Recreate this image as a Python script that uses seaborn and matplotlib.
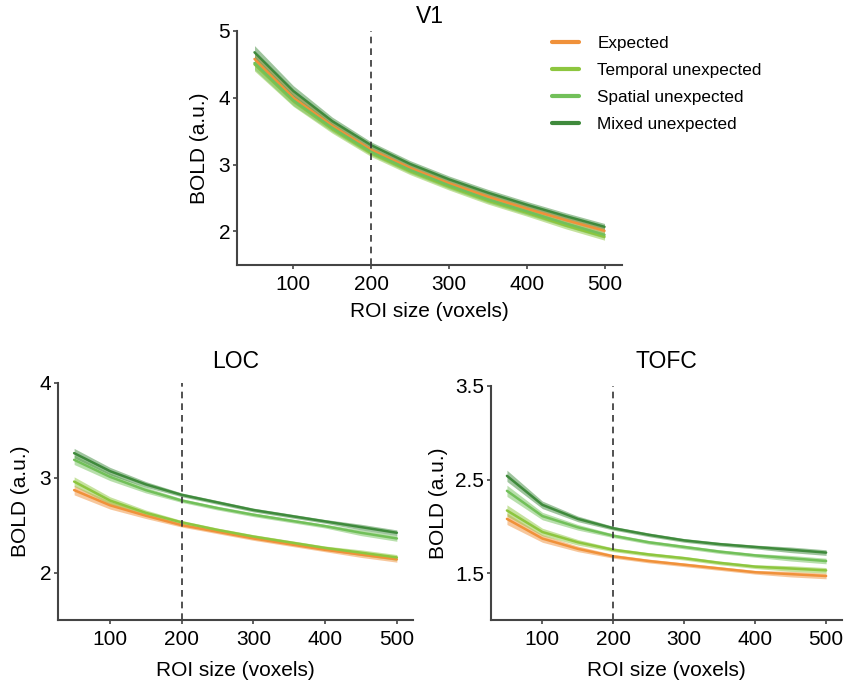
import numpy as np
import pandas as pd
import matplotlib
matplotlib.use("Agg")
import matplotlib.pyplot as plt
import seaborn as sns

sns.set_theme(style="ticks")
plt.rcParams["font.family"] = ["Liberation Sans", "DejaVu Sans"]
plt.rcParams["text.color"] = "black"
plt.rcParams["axes.labelcolor"] = "black"

# ROI sizes (voxels)
roi_sizes = [50, 100, 150, 200, 250, 300, 350, 400, 450, 500]

conditions = ["Expected", "Temporal unexpected", "Spatial unexpected", "Mixed unexpected"]
palette = ["#F0913A", "#8DC63F", "#72C05A", "#3F8A3C"]

# Mean BOLD per condition, V1
v1_expected = [4.58, 4.00, 3.58, 3.22, 2.95, 2.72, 2.52, 2.34, 2.17, 2.01]
v1_temporal = [4.50, 3.95, 3.53, 3.17, 2.90, 2.67, 2.46, 2.28, 2.09, 1.92]
v1_spatial = [4.52, 3.96, 3.55, 3.19, 2.92, 2.69, 2.48, 2.30, 2.12, 1.95]
v1_mixed = [4.68, 4.10, 3.65, 3.29, 3.01, 2.78, 2.58, 2.40, 2.23, 2.07]
v1_sem = [0.10, 0.08, 0.06, 0.05, 0.05, 0.05, 0.05, 0.05, 0.05, 0.05]

# Mean BOLD per condition, LOC
loc_expected = [2.87, 2.71, 2.60, 2.50, 2.43, 2.36, 2.30, 2.24, 2.19, 2.14]
loc_temporal = [2.96, 2.76, 2.63, 2.53, 2.45, 2.38, 2.32, 2.26, 2.21, 2.16]
loc_spatial = [3.19, 3.01, 2.87, 2.76, 2.68, 2.61, 2.55, 2.49, 2.42, 2.36]
loc_mixed = [3.26, 3.07, 2.93, 2.82, 2.74, 2.66, 2.60, 2.54, 2.48, 2.42]
loc_sem = [0.05, 0.04, 0.03, 0.02, 0.02, 0.02, 0.02, 0.02, 0.03, 0.03]

# Mean BOLD per condition, TOFC
tofc_expected = [2.08, 1.87, 1.76, 1.68, 1.63, 1.59, 1.55, 1.51, 1.49, 1.47]
tofc_temporal = [2.17, 1.94, 1.83, 1.75, 1.70, 1.66, 1.61, 1.57, 1.55, 1.53]
tofc_spatial = [2.38, 2.11, 1.99, 1.90, 1.83, 1.78, 1.73, 1.69, 1.66, 1.63]
tofc_mixed = [2.54, 2.23, 2.08, 1.98, 1.91, 1.85, 1.81, 1.78, 1.75, 1.72]
tofc_sem = [0.06, 0.04, 0.03, 0.02, 0.02, 0.02, 0.02, 0.02, 0.03, 0.03]

regions = {
    "V1": ([v1_expected, v1_temporal, v1_spatial, v1_mixed], v1_sem, (1.5, 5), [2, 3, 4, 5], ["2", "3", "4", "5"]),
    "LOC": ([loc_expected, loc_temporal, loc_spatial, loc_mixed], loc_sem, (1.5, 4), [2, 3, 4], ["2", "3", "4"]),
    "TOFC": ([tofc_expected, tofc_temporal, tofc_spatial, tofc_mixed], tofc_sem, (1.0, 3.5), [1.5, 2.5, 3.5], ["1.5", "2.5", "3.5"]),
}

# per-panel spacing of title, x label and y label (points)
title_pad = {"V1": 6, "LOC": 11, "TOFC": 13}
xlabel_pad = {"V1": 6, "LOC": 9, "TOFC": 9}
ylabel_pad = {"V1": 7, "LOC": 7, "TOFC": 5}

fig = plt.figure(figsize=(8.48, 6.81), dpi=100)
axes = {
    "V1": fig.add_axes([0.2795, 0.611, 0.454, 0.3436]),
    "LOC": fig.add_axes([0.0684, 0.0896, 0.4186, 0.348]),
    "TOFC": fig.add_axes([0.579, 0.0896, 0.414, 0.3436]),
}

spine_color = "#444444"
for name, ax in axes.items():
    means, sem, ylim, yticks, yticklabels = regions[name]
    rows = []
    for cond, vals in zip(conditions, means):
        for x, v in zip(roi_sizes, vals):
            rows.append({"roi": x, "bold": v, "condition": cond})
    df = pd.DataFrame(rows)
    for cond, col, vals in zip(conditions, palette, means):
        lo = np.array(vals) - np.array(sem)
        hi = np.array(vals) + np.array(sem)
        ax.fill_between(roi_sizes, lo, hi, color=col, alpha=0.5, linewidth=0)
    sns.lineplot(data=df, x="roi", y="bold", hue="condition", hue_order=conditions,
                 palette=palette, linewidth=1.8, ax=ax, legend=(name == "V1"))
    ax.axvline(200, color="#333333", linestyle=(0, (4, 3)), linewidth=1.2)
    ax.set_ylim(*ylim)
    ax.set_yticks(yticks)
    ax.set_yticklabels(yticklabels)
    ax.set_xticks([100, 200, 300, 400, 500])
    ax.set_xlabel("ROI size (voxels)", fontsize=15, labelpad=xlabel_pad[name])
    ax.set_ylabel("BOLD (a.u.)", fontsize=15, labelpad=ylabel_pad[name])
    ax.set_title(name, fontsize=16.5, pad=title_pad[name])
    ax.tick_params(labelsize=15, length=3, width=1.2, color=spine_color,
                   labelcolor="black", pad=2)
    ax.tick_params(axis="x", pad=4)
    sns.despine(ax=ax)
    for s in ("left", "bottom"):
        ax.spines[s].set_color(spine_color)
        ax.spines[s].set_linewidth(1.5)
    if name == "V1":
        ax.get_legend().remove()

handles, labels = axes["V1"].get_legend_handles_labels()
for h in handles:
    h.set_linewidth(3)
fig.legend(handles, labels, loc="upper left", bbox_to_anchor=(0.633, 0.97),
           frameon=False, fontsize=12.3, handlelength=1.55, handletextpad=1.1,
           labelspacing=0.7)

fig.savefig("out.png", dpi=100)
